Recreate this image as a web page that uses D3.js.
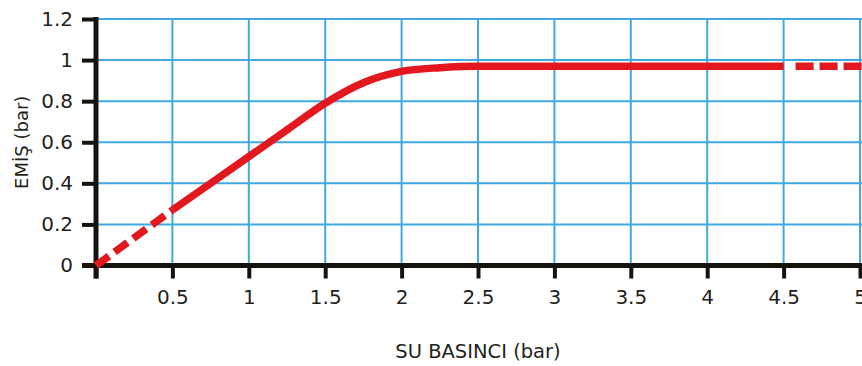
<!DOCTYPE html>
<html><head><meta charset="utf-8">
<script src="https://cdn.jsdelivr.net/npm/d3@7"></script>
<style>
html,body{margin:0;padding:0;background:#fff;}
svg{display:block;}
text{font-family:"DejaVu Sans",sans-serif;fill:#231f20;}
</style></head>
<body><div id="chart"></div>
<script>
// Data
const pressure = [0, 0.5, 1, 1.25, 1.5, 1.75, 2, 2.25, 2.5, 3, 3.5, 4, 4.5, 5];
const suction  = [0, 0.27, 0.53, 0.66, 0.79, 0.89, 0.945, 0.963, 0.97, 0.97, 0.97, 0.97, 0.97, 0.97];
const xTicks = [0, 0.5, 1, 1.5, 2, 2.5, 3, 3.5, 4, 4.5, 5];
const xTickLabels = ["", "0.5", "1", "1.5", "2", "2.5", "3", "3.5", "4", "4.5", "5"];
const yTicks = [0, 0.2, 0.4, 0.6, 0.8, 1, 1.2];
const yTickLabels = ["0", "0.2", "0.4", "0.6", "0.8", "1", "1.2"];
const solidFrom = 0.5, solidTo = 4.5;
const xTitle = "SU BASINCI (bar)";
const yTitle = "EMİŞ (bar)";

const W = 862, H = 366;
const svg = d3.select("#chart").append("svg").attr("width", W).attr("height", H);

const x = d3.scaleLinear().domain([0, 5]).range([96, 860]);
const y = d3.scaleLinear().domain([0, 1.2]).range([265.5, 19]);

const blue = "#3fa9e0", red = "#e3171e", black = "#16130f";
const font = "'DejaVu Sans', sans-serif";

// gridlines
const grid = svg.append("g");
grid.selectAll(".h").data(yTicks.filter(d => d > 0)).join("line")
  .attr("x1", x(0)).attr("x2", W).attr("y1", d => y(d)).attr("y2", d => y(d))
  .attr("stroke", blue).attr("stroke-width", 2);
grid.selectAll(".v").data(xTicks.filter(d => d > 0)).join("line")
  .attr("x1", d => x(d)).attr("x2", d => x(d)).attr("y1", y(1.2)).attr("y2", y(0))
  .attr("stroke", blue).attr("stroke-width", 2);

// curve
const pts = pressure.map((p, i) => [p, suction[i]]);
const line = d3.line().x(d => x(d[0])).y(d => y(d[1])).curve(d3.curveMonotoneX);

// axes
const xAxis = svg.append("g").attr("transform", `translate(0,${y(0)})`)
  .call(d3.axisBottom(x).tickValues(xTicks).tickFormat((d, i) => xTickLabels[i]).tickSize(13).tickSizeOuter(0).tickPadding(11));
xAxis.select(".domain").remove();
xAxis.selectAll(".tick line").attr("stroke", black).attr("stroke-width", 4);
xAxis.selectAll(".tick text").style("font-size", "20px").style("font-family", font).attr("fill", "#231f20");
xAxis.append("line").attr("x1", x(0) - 14).attr("x2", W).attr("y1", 0).attr("y2", 0)
  .attr("stroke", black).attr("stroke-width", 5);

const yAxis = svg.append("g").attr("transform", `translate(${x(0)},0)`)
  .call(d3.axisLeft(y).tickValues(yTicks).tickFormat((d, i) => yTickLabels[i]).tickSize(14).tickSizeOuter(0).tickPadding(9));
yAxis.select(".domain").remove();
yAxis.selectAll(".tick line").attr("stroke", black).attr("stroke-width", 4);
yAxis.selectAll(".tick text").style("font-size", "20px").style("font-family", font).attr("fill", "#231f20");
yAxis.append("line").attr("x1", 0).attr("x2", 0).attr("y1", y(1.2) - 2).attr("y2", y(0) + 13)
  .attr("stroke", black).attr("stroke-width", 5);

// red line segments
const straight = d3.line().x(d => x(d[0])).y(d => y(d[1]));
const left = pts.filter(d => d[0] <= solidFrom);
const mid = pts.filter(d => d[0] >= solidFrom && d[0] <= solidTo);
const right = pts.filter(d => d[0] >= solidTo);
svg.append("path").attr("d", line(mid)).attr("fill", "none").attr("stroke", red).attr("stroke-width", 7.5);
svg.append("path").attr("d", straight(left)).attr("fill", "none")
  .attr("stroke", red).attr("stroke-width", 7.5).attr("stroke-dasharray", "16,7");
svg.append("path").attr("d", straight([[solidTo, right[0][1]], [5.02, right[right.length-1][1]]])).attr("fill", "none")
  .attr("stroke", red).attr("stroke-width", 7.5).attr("stroke-dasharray", "0,12,18,6,18,6,18,6");

// titles
svg.append("text").attr("x", (x(0) + x(5)) / 2).attr("y", 358).attr("text-anchor", "middle")
  .style("font-size", "19.5px").text(xTitle);
svg.append("text").attr("transform", `translate(28,${(y(0) + y(1.2)) / 2}) rotate(-90)`).attr("text-anchor", "middle")
  .style("font-size", "18px").text(yTitle);
</script></body></html>
